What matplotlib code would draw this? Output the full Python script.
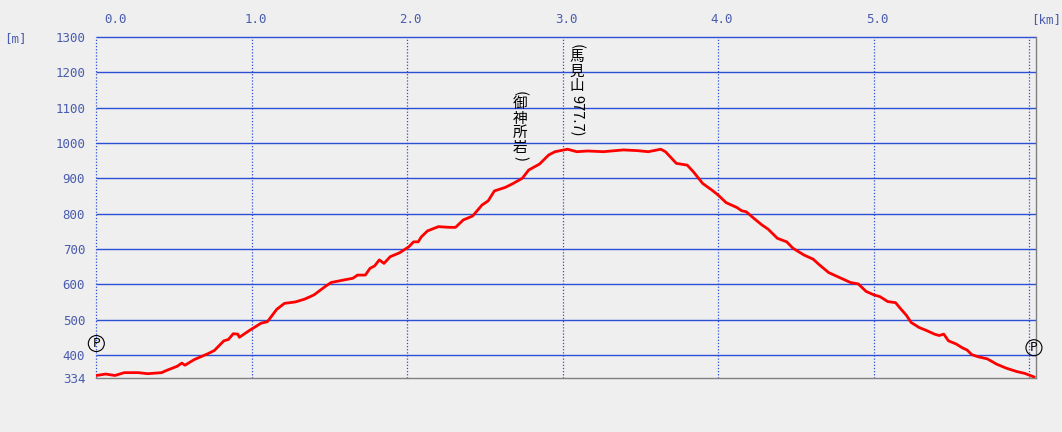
import matplotlib
matplotlib.use("Agg")
import matplotlib.pyplot as plt


# -----------------------------
# Data
# -----------------------------
distance_km = [
    0.00, 0.06, 0.12, 0.18, 0.27, 0.33, 0.42, 0.45, 0.52, 0.55,
    0.57, 0.63, 0.72, 0.76, 0.82, 0.85, 0.88, 0.91, 0.92, 0.98,
    1.06, 1.10, 1.16, 1.21, 1.28, 1.34, 1.40, 1.47, 1.51, 1.59,
    1.65, 1.68, 1.73, 1.76, 1.79, 1.82, 1.85, 1.89, 1.95, 2.01,
    2.04, 2.07, 2.09, 2.13, 2.20, 2.27, 2.31, 2.36, 2.42, 2.48,
    2.52, 2.56, 2.63, 2.68, 2.74, 2.78, 2.85, 2.91, 2.95, 3.03,
    3.09, 3.16, 3.26, 3.39, 3.48, 3.55, 3.63, 3.66, 3.69, 3.73,
    3.80, 3.84, 3.90, 3.96, 4.00, 4.05, 4.12, 4.15, 4.18, 4.23,
    4.28, 4.32, 4.38, 4.44, 4.48, 4.55, 4.61, 4.65, 4.71, 4.78,
    4.85, 4.90, 4.95, 5.00, 5.04, 5.09, 5.14, 5.17, 5.21, 5.24,
    5.29, 5.34, 5.39, 5.42, 5.45, 5.48, 5.53, 5.57, 5.60, 5.63,
    5.67, 5.73, 5.79, 5.85, 5.92, 5.97, 6.03,
]

elevation_m = [
    342, 346, 342, 350, 350, 347, 350, 356, 368, 377,
    371, 387, 404, 413, 440, 444, 460, 459, 450, 468,
    490, 494, 529, 546, 550, 558, 570, 593, 605, 612,
    617, 626, 626, 645, 652, 669, 659, 678, 689, 706,
    720, 720, 734, 751, 763, 761, 761, 782, 793, 824,
    836, 864, 874, 885, 900, 923, 940, 966, 975, 982,
    975, 977, 975, 980, 978, 975, 982, 975, 961, 942,
    937, 918, 885, 866, 852, 831, 817, 808, 805, 786,
    768, 756, 730, 720, 702, 683, 671, 655, 633, 619,
    605, 601, 580, 570, 565, 551, 548, 532, 512, 492,
    478, 469, 459, 455, 459, 440, 431, 420, 414, 401,
    395, 389, 374, 363, 353, 348, 338,
]

km_ticks = [0, 1, 2, 3, 4, 5, 6]
km_labels = ["0.0", "1.0", "2.0", "3.0", "4.0", "5.0", "[km]"]

m_ticks = [334, 400, 500, 600, 700, 800, 900, 1000, 1100, 1200, 1300]
m_grid = [400, 500, 600, 700, 800, 900, 1000, 1100, 1200, 1300]

# vertical place names: (km, top elevation, [(text, rotated)])
places = [
    (2.725, 1150, [("(", True), ("御", False), ("神", False), ("所", False), ("岩", False), (")", True)]),
    (3.09, 1283, [("(", True), ("馬", False), ("見", False), ("山", False), ("977.7)", True)]),
]

x_max = 6.043
y_min, y_max = 334, 1300

bg = "#efefef"
blue = "#2c4fd6"
label_blue = "#4a5cae"
cjk = ["Noto Sans CJK JP", "DejaVu Sans"]
name_size = 10.5


# -----------------------------
# Figure
# -----------------------------
fig = plt.figure(figsize=(10.62, 4.32), dpi=100, facecolor=bg)
ax = fig.add_axes([0.0907, 0.1243, 0.8848, 0.7905])
ax.set_facecolor(bg)

ax.set_xlim(0, x_max)
ax.set_ylim(y_min, y_max)

# grid
ax.hlines(m_grid, 0, x_max, colors=blue, linewidth=1.0, clip_on=False, zorder=1)
ax.vlines(km_ticks, y_min, y_max, colors=blue, linewidth=0.9,
          linestyles=(0, (1, 1.5)), clip_on=False, zorder=1)

for side in ["top", "left"]:
    ax.spines[side].set_visible(False)
for side in ["bottom", "right"]:
    ax.spines[side].set_color("#808080")
    ax.spines[side].set_linewidth(1.0)

# profile
ax.plot(distance_km, elevation_m, color="#ff0000", linewidth=2.0, zorder=3)


# -----------------------------
# Axis labels
# -----------------------------
ax.set_xticks([])
ax.set_yticks(m_ticks)
ax.set_yticklabels([str(v) for v in m_ticks])
ax.tick_params(axis="y", length=0, pad=8, labelsize=9, labelcolor=label_blue)
for lab in ax.get_yticklabels():
    lab.set_family("DejaVu Sans Mono")

for k, lab in zip(km_ticks, km_labels):
    if k == 0:
        dx, ha = 5.5, "left"
    elif lab == "[km]":
        dx, ha = 1, "left"
    else:
        dx, ha = 2.5, "center"
    ax.annotate(lab, (k, 1), xycoords=("data", "axes fraction"),
                xytext=(dx, 7.5), textcoords="offset points",
                ha=ha, va="bottom", fontsize=9, color=label_blue,
                family="DejaVu Sans Mono", annotation_clip=False)

fig.text(4 / 1062, 1 - 39 / 432, "[m]", fontsize=9, color=label_blue,
         family="DejaVu Sans Mono", ha="left", va="center")


# -----------------------------
# Parking marks
# -----------------------------
for i, dy in [(0, 23), (-1, 21)]:
    ax.annotate("P", (distance_km[i], elevation_m[i]), xytext=(0, dy),
                textcoords="offset points", ha="center", va="center",
                fontsize=9, color="black", annotation_clip=False,
                bbox=dict(boxstyle="circle,pad=0.12", fc="none",
                          ec="black", lw=0.8))


# -----------------------------
# Place names (vertical text)
# -----------------------------
renderer = fig.canvas.get_renderer()
for k, top, parts in places:
    offset = 0
    for txt, rotated in parts:
        if rotated:
            probe = ax.text(0, 0, txt, rotation=-90, fontsize=name_size,
                            family=cjk)
            size = probe.get_window_extent(renderer).height * 72 / fig.dpi + 1.5
            probe.remove()
        else:
            size = name_size * 1.0
        ax.annotate(txt, (k, top), xytext=(0, -(offset + size / 2)),
                    textcoords="offset points",
                    rotation=-90 if rotated else 0,
                    ha="center", va="center", fontsize=name_size,
                    color="black", family=cjk)
        offset += size

fig.savefig("out.png", dpi=100, facecolor=bg)
